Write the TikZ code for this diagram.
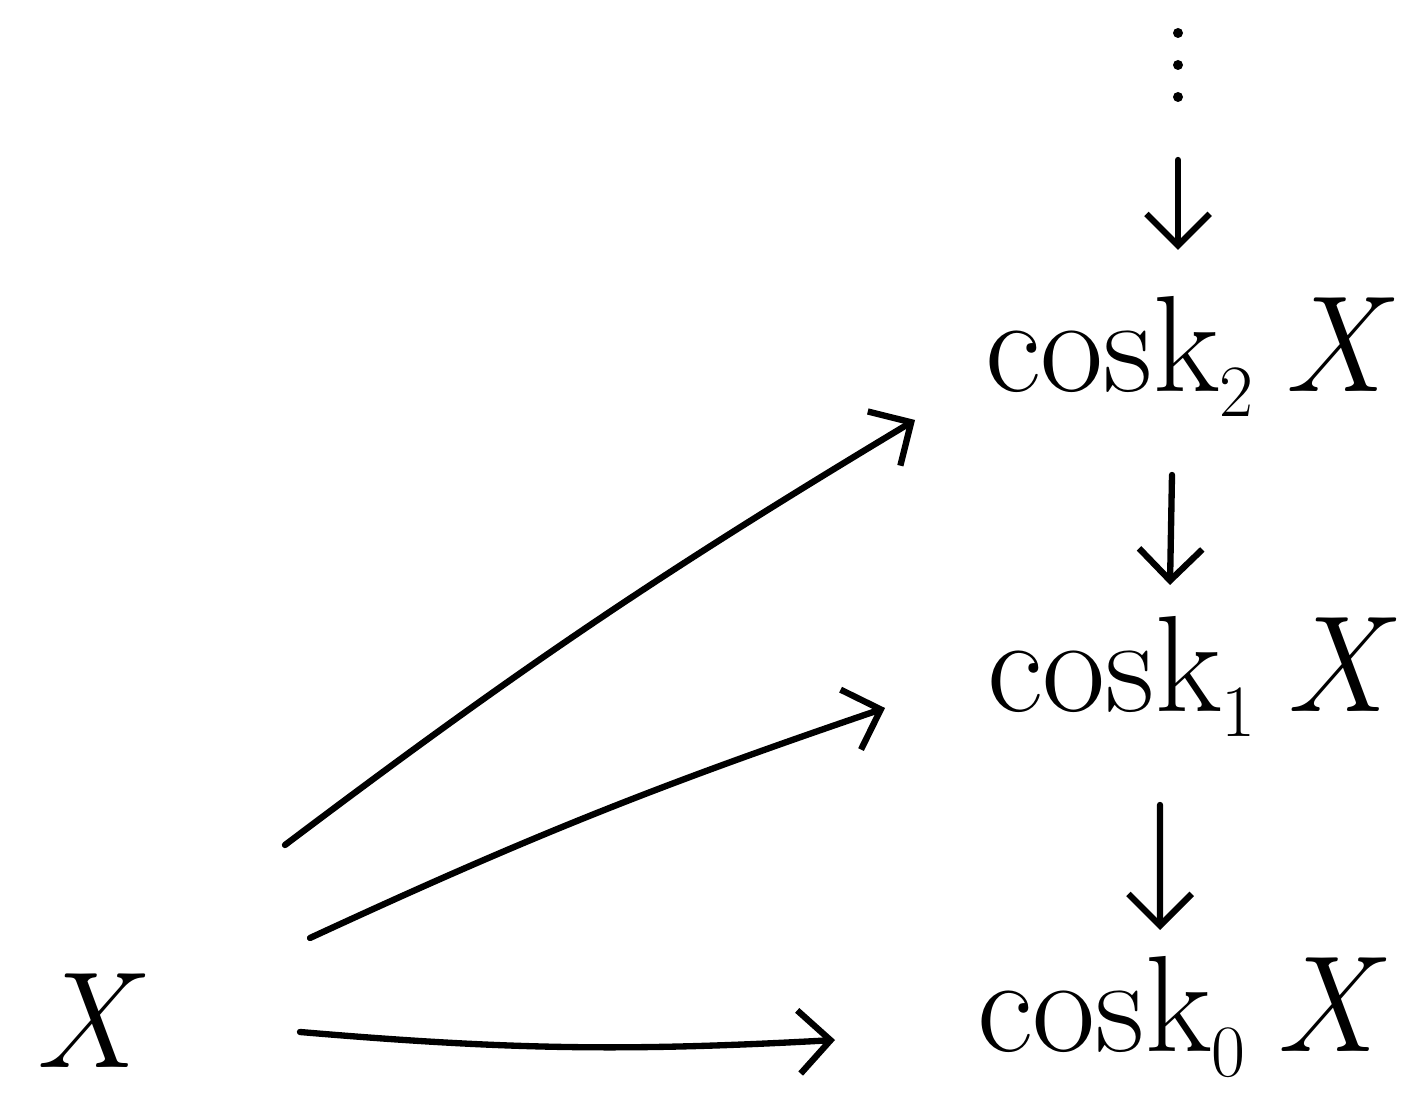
\documentclass[tikz,border=0pt]{standalone}
\usetikzlibrary{arrows.meta}
\newcommand{\cosksub}[1]{cosk\raisebox{-0.18em}{\fontsize{21}{23}\selectfont #1}\hspace{0.22em}\textit{X}}
\begin{document}
\begin{tikzpicture}[
  lbl/.style={inner sep=0pt, anchor=base, font=\fontsize{39}{44}\selectfont},
  arr/.style={line width=1.8pt, line cap=round, -{Straight Barb[length=9pt,width=18pt,line width=1.8pt]}}
]
\useasboundingbox (0,0) rectangle (14.08,10.94);
\node[lbl] (x)  at (0.9,0.26) {\textit{X}};
\node[lbl] (c0) at (11.82,0.42) {\cosksub{0}};
\node[lbl] (c1) at (11.92,3.82) {\cosksub{1}};
\node[lbl] (c2) at (11.9,7.02) {\cosksub{2}};
\coordinate (dots) at (11.78,10.29);
\foreach \dy in {0.32,0,-0.32} \fill ([yshift=\dy cm]dots) circle (0.05);
\draw[arr] ([shift={(0,-0.95)}]dots) -- ([shift={(-0.12,1.42)}]c2.base);
\draw[arr] ([shift={(-0.18,-0.83)}]c2.base) -- ([shift={(-0.22,1.27)}]c1.base);
\draw[arr] ([shift={(-0.32,-0.93)}]c1.base) -- ([shift={(-0.22,1.22)}]c0.base);
\draw[arr] ([shift={(2.1,0.36)}]x.base) to[bend right=4] ([shift={(-3.47,0.12)}]c0.base);
\draw[arr] ([shift={(2.2,1.30)}]x.base) to[bend left=3] ([shift={(-3.07,0.04)}]c1.base);
\draw[arr] ([shift={(1.95,2.23)}]x.base) to[bend left=3] ([shift={(-2.75,-0.28)}]c2.base);
\end{tikzpicture}
\end{document}
